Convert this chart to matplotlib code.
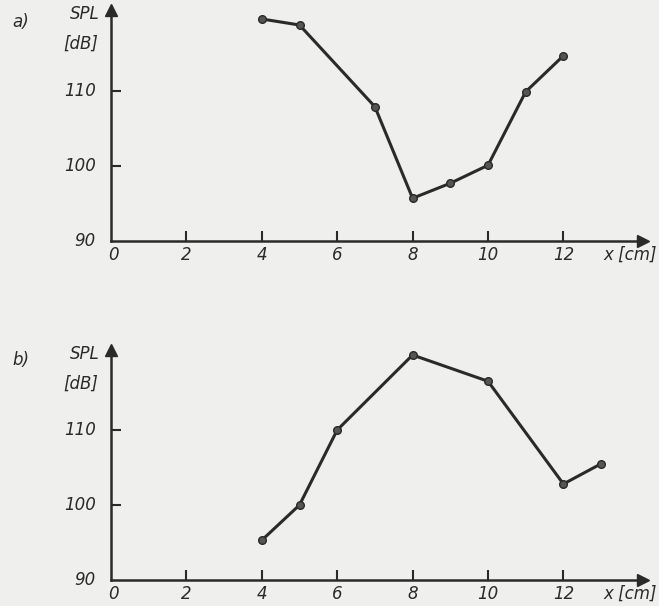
import numpy as np
import matplotlib.pyplot as plt

# values
xa = [4, 5, 7, 8, 9, 10, 11, 12]
spl_a = [119.6, 118.8, 107.9, 95.7, 97.7, 100.1, 109.9, 114.7]

xb = [4, 5, 6, 8, 10, 12, 13]
spl_b = [95.3, 100.0, 110.0, 120.0, 116.5, 102.8, 105.5]

xticks = [2, 4, 6, 8, 10, 12]
xlabels = ['0', '2', '4', '6', '8', '10', '12']
yticks = [100, 110]
ylabels = ['90', '100', '110']

W, H = 659, 606
bg = '#efefed'
ink = '#2a2a2a'
fs = 12

fig = plt.figure(figsize=(W / 100, H / 100), dpi=100, facecolor=bg)


def px(x, y):
    return x / W, 1 - y / H


def panel(x0, y90, ytop, xs, ys, tag, tag_y):
    left, bottom = px(x0, y90)
    right, top = px(643, ytop)
    ax = fig.add_axes([left, bottom, right - left, top - bottom])
    ax.set_facecolor(bg)
    ax.set_xlim(0, (643 - x0) / 37.7)
    ax.set_ylim(90, 90 + (y90 - ytop) / 7.5)
    for s in ['top', 'right']:
        ax.spines[s].set_visible(False)
    for s in ['left', 'bottom']:
        ax.spines[s].set_linewidth(1.8)
        ax.spines[s].set_color(ink)
    ax.plot(1, 0, '>', color=ink, ms=9, transform=ax.transAxes, clip_on=False)
    ax.plot(0, 1, '^', color=ink, ms=9, transform=ax.transAxes, clip_on=False)
    ax.set_xticks(xticks)
    ax.set_yticks(yticks)
    ax.tick_params(direction='in', length=7, width=1.5, color=ink,
                   labelbottom=False, labelleft=False)

    ax.plot(xs, ys, '-o', color=ink, lw=2.2, ms=5.5, mfc='#555555', mec=ink, mew=1)

    # tick labels drawn as text to place them like the print
    for i, lab in enumerate(xlabels):
        ax.annotate(lab, (2 * i, 90), xytext=(2 if i == 0 else 0, -3.5),
                    textcoords='offset points', ha='center', va='top',
                    fontsize=fs, style='italic', color=ink)
    for i, lab in enumerate(ylabels):
        ax.annotate(lab, (0, 90 + 10 * i), xytext=(-11, 0),
                    textcoords='offset points', ha='right', va='center',
                    fontsize=fs, style='italic', color=ink)
    ax.annotate('x [cm]', (1, 0), xycoords='axes fraction', xytext=(10, -3.5),
                textcoords='offset points', ha='right', va='top',
                fontsize=fs, style='italic', color=ink)
    ax.annotate('SPL', (0, 1), xycoords='axes fraction', xytext=(-8, -3),
                textcoords='offset points', ha='right', va='center',
                fontsize=fs, style='italic', color=ink)
    ax.annotate('[dB]', (0, 1), xycoords='axes fraction', xytext=(-9, -24),
                textcoords='offset points', ha='right', va='center',
                fontsize=fs, style='italic', color=ink)
    fig.text(*px(12, tag_y), tag, fontsize=fs, style='italic', color=ink,
             ha='left', va='center')
    return ax


panel(111, 241, 10, xa, spl_a, 'a)', 22)
panel(111, 580, 350, xb, spl_b, 'b)', 360)

fig.savefig('out.png', dpi=100, facecolor=bg)
